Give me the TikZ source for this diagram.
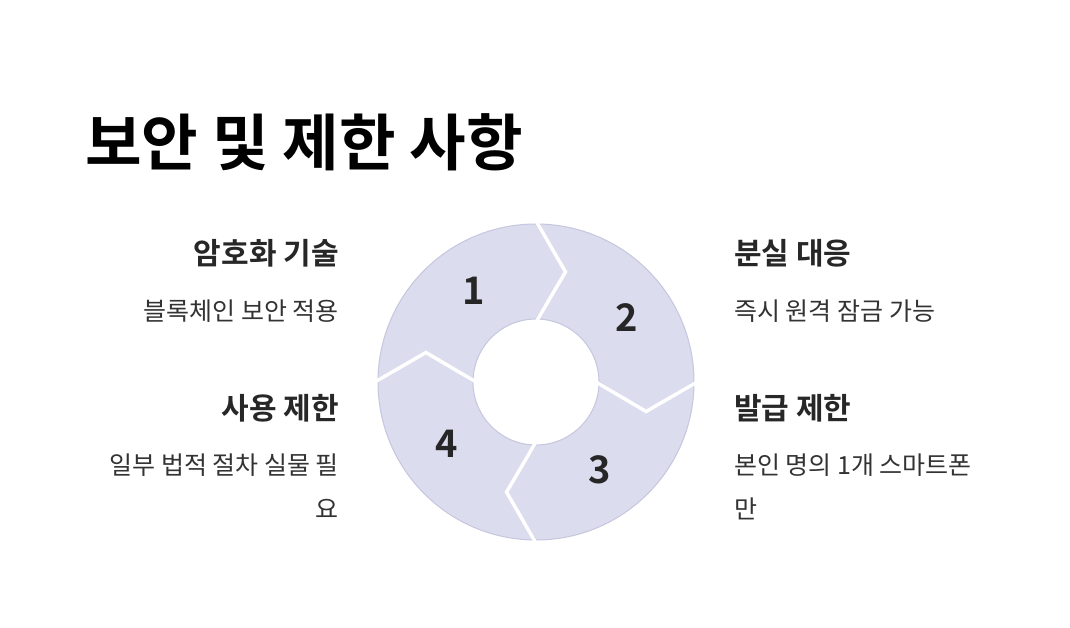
\documentclass[tikz,border=0pt]{standalone}
\usepackage{fontspec}
\setmainfont{Noto Sans CJK KR}[BoldFont={Noto Sans CJK KR Bold}]
\definecolor{segfill}{HTML}{DCDCEF}
\definecolor{segline}{HTML}{C6C6DE}
\definecolor{headc}{HTML}{272727}
\definecolor{bodyc}{HTML}{333333}
\definecolor{numc}{HTML}{262626}
\begin{document}
\begin{tikzpicture}[x=1pt,y=-1pt,
  seg/.style={fill=segfill,draw=segline,line width=1pt,line join=round},
  gapline/.style={draw=white,line width=3.5pt,line join=miter},
  title/.style={inner sep=0pt,anchor=west,text=black,font=\fontsize{61.5}{66}\selectfont\bfseries},
  head/.style={inner sep=0pt,text=headc,font=\fontsize{30}{36}\selectfont\bfseries},
  body/.style={inner sep=0pt,text=bodyc,font=\fontsize{25}{44}\selectfont},
  num/.style={inner sep=0pt,text=numc,font=\fontsize{38}{40}\selectfont\bfseries}]
\useasboundingbox[fill=white] (0,0) rectangle (1070,628);
\def\Ro{158}\def\Ri{63}\def\Rm{114}\def\Da{15}
\coordinate (c) at (536,382);
% segments: from a1 to a2 (clockwise on screen)
\foreach \a/\b in {180/270,270/360,0/90,90/180}{
  \path[seg] ([shift={(\a:\Ro)}]c) arc[start angle=\a,end angle=\b,radius=\Ro]
    -- ([shift={(\b+\Da:\Rm)}]c) -- ([shift={(\b:\Ri)}]c)
    arc[start angle=\b,end angle=\a,radius=\Ri]
    -- ([shift={(\a+\Da:\Rm)}]c) -- cycle;
}
\foreach \a in {0,90,180,270}{
  \path[gapline] ([shift={(\a:\Ro+3)}]c) -- ([shift={(\a+\Da:\Rm)}]c) -- ([shift={(\a:\Ri-3)}]c);
}
\node[num] (n1) at (474,291) {1};
\node[num] (n2) at (627,318) {2};
\node[num] (n3) at (600,470) {3};
\node[num] (n4) at (447,444) {4};
\node[title] (t) at (85,142) {보안 및 제한 사항};
\node[head,anchor=east] (h1) at (339,253) {암호화 기술};
\node[body,anchor=east] (b1) at (339,311) {블록체인 보안 적용};
\node[head,anchor=east] (h4) at (339,408) {사용 제한};
\node[body,anchor=north east,align=right] (b4) at (339,454) {일부 법적 절차 실물 필\\요};
\node[head,anchor=west] (h2) at (734,253) {분실 대응};
\node[body,anchor=west] (b2) at (734,311) {즉시 원격 잠금 가능};
\node[head,anchor=west] (h3) at (734,408) {발급 제한};
\node[body,anchor=north west,align=left] (b3) at (734,454) {본인 명의 1개 스마트폰\\만};
\end{tikzpicture}
\end{document}
